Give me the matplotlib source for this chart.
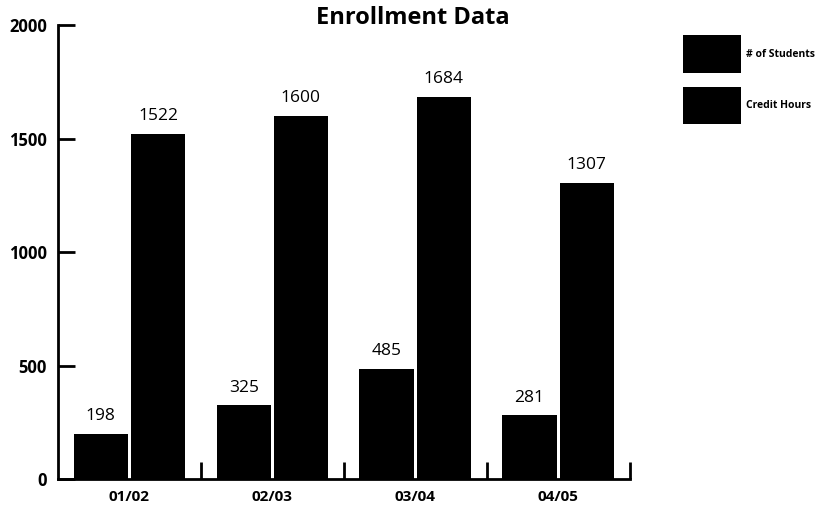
import matplotlib.pyplot as plt
import numpy as np

anos = ["01/02", "02/03", "03/04", "04/05"]
alunos = [198, 325, 485, 281]
horas = [1522, 1600, 1684, 1307]

plt.rcParams['font.family'] = ['Open Sans', 'DejaVu Sans']

fig = plt.figure(figsize=(8.2, 5.12), dpi=100)
ax = fig.add_axes([0.0707, 0.0645, 0.697, 0.886])

x = np.arange(len(anos))
larg = 0.38
b1 = ax.bar(x - 0.2, alunos, larg, color='black', label="# of Students")
b2 = ax.bar(x + 0.2, horas, larg, color='black', label="Credit Hours")

ax.bar_label(b1, padding=7, fontsize=12.5)
ax.bar_label(b2, padding=7, fontsize=12.5)

ax.set_xlim(-0.5, 3.5)
ax.set_ylim(0, 2000)
ax.set_yticks([0, 500, 1000, 1500, 2000])

# ticks do eixo x ficam nas divisoes entre os anos
ax.set_xticks(x)
ax.set_xticklabels(anos, fontweight='bold', fontsize=11)
ax.set_xticks([0.5, 1.5, 2.5, 3.5], minor=True)
ax.tick_params(axis='x', which='major', length=0, pad=8)
ax.tick_params(axis='x', which='minor', direction='in', length=12, width=2)
ax.tick_params(axis='y', direction='in', length=12, width=2, pad=8)
for t in ax.get_yticklabels():
    t.set_fontweight('bold')
    t.set_fontsize(12)

for s in ['top', 'right']:
    ax.spines[s].set_visible(False)
ax.spines['left'].set_linewidth(2)
ax.spines['bottom'].set_linewidth(2)

fig.text(0.503, 0.965, "Enrollment Data", ha='center', va='center',
         fontsize=17, fontweight='bold')

legend = fig.legend(loc='upper left', bbox_to_anchor=(0.827, 0.941), frameon=False,
                    fontsize=7.5, handlelength=5.5, handleheight=5.2,
                    labelspacing=1.3, handletextpad=0.5, borderpad=0)
for t in legend.get_texts():
    t.set_fontweight('bold')

plt.savefig("out.png", dpi=100)
